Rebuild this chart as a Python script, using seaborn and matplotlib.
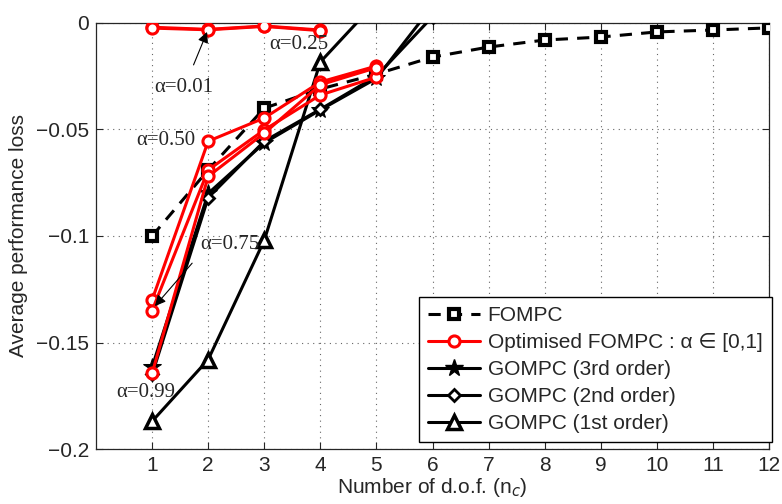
import numpy as np
import matplotlib
matplotlib.use("Agg")
import matplotlib.pyplot as plt
from matplotlib.lines import Line2D
import pandas as pd
import seaborn as sns

# number of degrees of freedom
n_dof = [1, 2, 3, 4, 5, 6, 7, 8, 9, 10, 11, 12]

# FOMPC (dashed, squares)
fompc = [-0.100, -0.069, -0.040, -0.031, -0.024, -0.016,
         -0.0113, -0.0080, -0.0066, -0.0042, -0.0033, -0.0023]

# optimised FOMPC for several alpha values (x = 1..5)
opt_x = [1, 2, 3, 4, 5]
opt_a001 = [-0.0020, -0.0030, -0.0014, -0.0033]
opt_a025 = [-0.0024, -0.0032, -0.0016, -0.0036]
opt_a050 = [-0.1300, -0.0555, -0.0446, -0.0277, -0.0202]
opt_a075 = [-0.1350, -0.0690, -0.0502, -0.0338, -0.0254]
opt_a099 = [-0.1645, -0.0720, -0.0517, -0.0290, -0.0210]

# GOMPC
gompc_x = [1, 2, 3, 4, 5, 6]
gompc3 = [-0.1615, -0.0800, -0.0563, -0.0408, -0.0260, 0.008]
gompc2 = [-0.1650, -0.0820, -0.0555, -0.0405, -0.0250, 0.003]
gompc1_x = [1, 2, 3, 4, 5]
gompc1 = [-0.1870, -0.1580, -0.1020, -0.0183, 0.010]

sns.set_style("ticks")
plt.rcParams['font.family'] = ['Liberation Sans', 'DejaVu Sans']

fig = plt.figure(figsize=(7.82, 5.04), dpi=100)
ax = fig.add_axes([0.1228, 0.1091, 0.8606, 0.8453])

def draw(x, y, **kw):
    df = pd.DataFrame({'x': x[:len(y)], 'y': y})
    sns.lineplot(data=df, x='x', y='y', ax=ax, sort=False, errorbar=None, **kw)

lw = 2.2
sq = dict(marker='s', ms=6.5, mec='black', mfc='white', mew=3)
circ = dict(marker='o', ms=8, mec='red', mfc='white', mew=2.2)
star = dict(marker='*', ms=13, mec='black', mfc='black')
diam = dict(marker='D', ms=6.5, mec='black', mfc='white', mew=2)
tri = dict(marker='^', ms=10, mec='black', mfc='white', mew=2.5)

draw(gompc_x, gompc3, color='black', lw=lw, zorder=3, **star)
draw(gompc_x, gompc2, color='black', lw=lw, zorder=3, **diam)
draw(gompc1_x, gompc1, color='black', lw=lw, zorder=3, **tri)
draw(n_dof, fompc, color='black', lw=lw, linestyle=(0, (4, 3)), zorder=4, **sq)
for ys in [opt_a001, opt_a025, opt_a050, opt_a075, opt_a099]:
    draw(opt_x, ys, color='red', lw=lw, zorder=5, **circ)

fs = 15
ax.set_xlim(0, 12)
ax.set_ylim(-0.2, 0)
ax.set_xticks(n_dof)
ax.set_yticks([-0.2, -0.15, -0.1, -0.05, 0])
ax.set_yticklabels(['\u22120.2', '\u22120.15', '\u22120.1', '\u22120.05', '0'])
ax.grid(True, linestyle=(0, (1, 4)), color='#666666', lw=0.8)
ax.tick_params(direction='in', top=True, right=True, labelsize=fs, length=5, width=0.8, pad=5)
for s in ax.spines.values():
    s.set_linewidth(0.9)
ax.set_xlabel('Number of d.o.f. (n$_c$)', fontsize=fs, labelpad=1)
ax.set_ylabel('Average performance loss', fontsize=fs, labelpad=6)

# legend
handles = [
    Line2D([], [], color='black', lw=lw, linestyle=(0, (4, 3)), **sq),
    Line2D([], [], color='red', lw=lw, **circ),
    Line2D([], [], color='black', lw=lw, **star),
    Line2D([], [], color='black', lw=lw, **diam),
    Line2D([], [], color='black', lw=lw, **tri),
]
labels = ['FOMPC', 'Optimised FOMPC : \u03b1 \u2208 [0,1]', 'GOMPC (3rd order)',
          'GOMPC (2nd order)', 'GOMPC (1st order)']
ax.legend(handles, labels, loc='lower right', bbox_to_anchor=(1.004, 0.016), fontsize=fs,
          frameon=True, fancybox=False, edgecolor='black', framealpha=1,
          handlelength=2.5, borderpad=0.45, labelspacing=0.38, handletextpad=0.35,
          borderaxespad=0.0)

# alpha annotations
serif = dict(family=['Liberation Serif', 'DejaVu Serif'], fontsize=15)
ax.annotate('\u03b1=0.01', xy=(1.98, -0.0042), xytext=(1.57, -0.0305), ha='center', va='center',
            arrowprops=dict(arrowstyle='-|>', color='black', lw=0.8, mutation_scale=16,
                            shrinkA=8, shrinkB=0), zorder=6, **serif)
ax.text(3.62, -0.0103, '\u03b1=0.25', ha='center', va='center', zorder=6, **serif)
ax.text(1.25, -0.0554, '\u03b1=0.50', ha='center', va='center', zorder=6, **serif)
ax.annotate('\u03b1=0.75', xy=(1.05, -0.1329), xytext=(2.39, -0.1038), ha='center', va='center',
            arrowprops=dict(arrowstyle='-|>', color='black', lw=0.8, mutation_scale=16,
                            shrinkA=6, shrinkB=0, relpos=(0, 0)), zorder=6, **serif)
ax.text(0.89, -0.1737, '\u03b1=0.99', ha='center', va='center', zorder=6, **serif)

fig.savefig('out.png', dpi=100)
